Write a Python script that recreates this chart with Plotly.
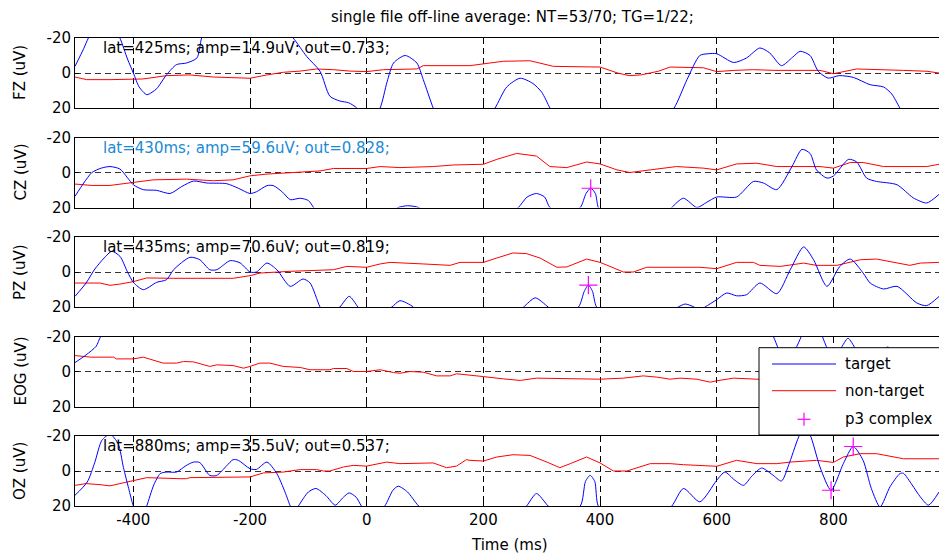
import plotly.graph_objects as go

# ---------------- data ----------------
CHANNELS = ["FZ", "CZ", "PZ", "EOG", "OZ"]
INFO = [
    "lat=425ms; amp=14.9uV; out=0.733;",
    "lat=430ms; amp=59.6uV; out=0.828;",
    "lat=435ms; amp=70.6uV; out=0.819;",
    "",
    "lat=880ms; amp=35.5uV; out=0.537;",
]
INFO_COLORS = ["black", "#1a8ad6", "black", "black", "black"]
TITLE = "single file off-line average: NT=53/70; TG=1/22;"
X_TICKS = [-400, -200, 0, 200, 400, 600, 800]
X_TICK_TEXT = ["-400", "-200", "0", "200", "400", "600", "800"]
Y_TICKS = [-20, 0, 20]
Y_TICK_TEXT = ["-20", "0", "20"]

# target (blue) averages, ms / uV
FZ_T_MS = [-500, -485, -477, -465, -445, -430, -423, -410, -400, -390, -377, -368, -360, -343, -326, -309, -291, -283, -270,
           -240, -190, -150, -126, -103, -80, -63, -46, -31, -17, -5, 10, 23, 35, 46, 66, 86, 97, 114, 125, 160, 200, 220,
           240, 263, 285, 300, 314, 330, 420, 500, 527, 549, 571, 585, 600, 629, 651, 674, 691, 711, 730, 743, 760, 774,
           791, 810, 834, 863, 886, 900, 914, 930, 960, 981]
FZ_T_UV = [-3.8, -14, -20, -26, -28, -24, -20, -8, 0, 8, 12.4, 11, 9, 1, -4.8, -5.7, -8.6, -20, -30,
           -35, -35, -28, -20, -9.5, -1, 13.3, 16, 17, 20, 26, 26, 20, 5, -5.7, -10, -5.7, 3.8, 20, 28, 35, 28, 20,
           8, 3, 6, 11, 20, 30, 35, 30, 20, 3.8, -10, -11, -11, -6, -8.6, -14.3, -11.4, -4.2, -9, -12.4, -10, -1,
           2.9, 1.5, 2.5, 6.7, 8, 12, 20, 28, 32, 33]

CZ_T_MS = [-500, -485, -471, -455, -440, -423, -410, -400, -383, -360, -337, -317, -297, -274, -240, -220, -200, -189, -171,
           -160, -145, -131, -114, -100, -91, -80, -20, 40, 54, 70, 89, 110, 200, 250, 260, 275, 291, 305, 314, 340, 366,
           376, 384, 392, 397, 410, 470, 510, 523, 543, 566, 583, 600, 634, 663, 680, 703, 729, 746, 760, 771, 789, 800,
           826, 840, 857, 874, 909, 937, 960, 981]
CZ_T_UV = [13.6, 6, 0, -2.5, -3.4, -2, 3, 7, 9.8, 10.2, 12, 8, 4.9, 6, 6.4, 9, 12, 11, 7.5,
           7.5, 11, 15.5, 14.7, 16, 20, 25, 30, 23, 20, 19, 20, 26, 30, 22, 20, 14, 12, 14, 20, 24, 20,
           12, 9, 12, 20, 26, 30, 26, 20, 14.7, 20, 17, 14, 14, 5.1, 6, 9.8, -3.4, -13.2, -10.9, -1.5, 3.2, 2,
           -7.5, -6, 3.2, 5.1, 7, 14.5, 17.4, 12.5]

PZ_T_MS = [-500, -481, -466, -450, -437, -423, -410, -400, -383, -360, -343, -331, -303, -286, -269, -257, -234, -217, -200,
           -189, -171, -154, -131, -109, -97, -80, -70, -55, -46, -30, -15, 0, 30, 43, 57, 80, 100, 200, 255, 269, 289,
           311, 330, 363, 373, 380, 387, 394, 420, 500, 534, 546, 561, 570, 580, 600, 617, 634, 651, 674, 703, 726, 749,
           766, 789, 811, 829, 851, 863, 886, 909, 943, 960, 981]
PZ_T_UV = [13.9, 6.3, -1.7, -8, -11.8, -9, 0, 5.9, 10.1, 5.9, 4.4, -1.3, -8.4, -7, -1.3, -1.3, -6.5, -5.2, 0,
           0, -5.1, -1.3, 8.2, 4, 6.3, 20, 25, 22, 20, 13.9, 20, 26, 22, 20, 16.4, 20, 27, 30, 24, 20, 14.8,
           20, 25, 20, 11, 7.5, 11, 20, 27, 27, 20, 18.3, 20, 22, 20, 15.8, 12, 13.6, 13, 6.3, 12.4, -1.3, -14.3,
           -7, 8.2, -3.2, -7.4, 0.6, 6.3, 9.7, 8.2, 17.7, 19.2, 14]

EOG_T_MS = [-500, -481, -464, -456, -440, -350, -200, 0, 200, 400, 600, 680, 697, 706, 720, 735, 745, 760, 775, 781,
            790, 800, 812, 825, 838, 850, 880, 893, 905, 930, 960, 981]
EOG_T_UV = [-5.1, -9.5, -14.3, -20, -28, -40, -45, -45, -45, -45, -40, -28, -20, -13, -8, -13, -20, -30, -24, -20,
            -13, -10, -13, -19, -13, -8, -10, -14, -10, -6, -4, -6]

OZ_T_MS = [-500, -479, -466, -454, -440, -426, -417, -408, -400, -390, -385, -377, -365, -354, -343, -326, -310, -297, -286,
           -269, -257, -240, -229, -220, -200, -189, -171, -154, -140, -131, -124, -117, -100, -87, -70, -54, -40, -30,
           -18, -9, 10, 31, 45, 54, 70, 89, 120, 200, 260, 274, 291, 311, 330, 366, 375, 383, 391, 397, 420, 500, 523,
           543, 571, 600, 614, 630, 646, 660, 677, 695, 711, 725, 743, 752, 760, 777, 796, 817, 834, 851, 865, 880, 897,
           914, 920, 935, 949, 963, 981]
OZ_T_UV = [13.9, 6.3, -5, -17.5, -21, -15.6, -2, 10, 20, 27, 27, 20, 8, 1.5, 0.6, 0.6, -3, -5.1, -4.8,
           2.5, 2.5, -3, -6.5, -6.1, -1.3, -0.9, -5.1, 1.5, 12, 20, 24, 20, 12, 10, 14, 19.5, 15, 12.5,
           15, 20, 27, 20, 11, 8.7, 12, 20, 28, 30, 24, 20, 12.9, 20, 25, 20, 6, 2.5, 6, 20, 26, 26, 20,
           10, 17.6, 5.3, 0.6, 5, 8.2, 3, -1.7, 2, 5.7, -5, -21, -23, -20.5, -2.3, 11, -4.2, -14, -6, 10, 20.5, 9,
           1.5, 1.3, 8, 14.8, 19.5, 12]

# non-target (red) averages, ms / uV
FZ_N_MS = [-500, -480, -440, -400, -383, -343, -303, -263, -229, -200, -171, -143, -114, -86, -57, -29, 0, 29, 86, 97, 177,
           234, 280, 320, 400, 430, 450, 470, 500, 520, 577, 600, 630, 663, 700, 777, 800, 820, 840, 920, 960, 981]
FZ_N_UV = [2.3, 3.8, 3.8, 3.8, 3.4, 1.5, 1.1, 2.3, 2.7, 3.0, 1.1, -0.4, -1.1, -2.3, -1.9, -1.1, -0.8, -1.9, -2.3, -4.2, -4.2,
           -6.7, -7.0, -3.8, -3.4, 0, 1.5, 1.1, -1, -3.4, -3.0, -0.8, -1.5, -1.9, -1.5, -1.5, 0.4, -1, -2.3, -1.5, -1, 0]

CZ_N_MS = [-500, -471, -440, -400, -366, -309, -263, -229, -200, -171, -131, -80, -57, 0, 23, 57, 114, 149, 200, 223, 257,
           291, 314, 343, 377, 400, 429, 451, 486, 531, 577, 600, 634, 669, 703, 777, 800, 829, 851, 886, 960, 981]
CZ_N_UV = [6.6, 7.4, 7.4, 5.7, 4.2, 3.8, 4.7, 4.2, 1.9, 0.9, 0, -0.9, -2.3, -2.3, -3.4, -2.8, -3.4, -4.3, -4.7, -7.5, -10.9,
           -9.4, -3.4, -2.8, -6, -4.9, -1.5, 0, -1.5, -3.4, -2.5, -1.5, -4.9, -5.3, -3.4, -3.4, -2.5, -5.7, -5.7, -3.4, -3.4, -4.7]

PZ_N_MS = [-500, -457, -440, -423, -400, -377, -331, -229, -200, -183, -131, -57, -34, 0, 23, 40, 97, 143, 160, 200, 223,
           251, 274, 297, 326, 343, 377, 400, 417, 440, 457, 480, 571, 600, 634, 663, 674, 709, 749, 771, 806, 846, 874,
           914, 931, 949, 981]
PZ_N_UV = [6.3, 6.3, 7.6, 6.9, 5.5, 3.4, 3.6, 3.6, 2.1, 0.6, -0.4, -1.3, -3.2, -2.7, -4.6, -5.5, -4.6, -3.8, -5.5, -5.5, -8,
           -10.9, -10.5, -8, -2.7, -2.9, -7.4, -5.5, -3.2, 0, 0, -2.7, -2.7, -1.9, -5.5, -5.5, -3.8, -3.2, -5.1, -3.8, -3.8, -7, -7.4,
           -5.1, -3.8, -5.1, -5.5]

EOG_N_MS = [-500, -473, -434, -429, -400, -383, -349, -326, -314, -297, -269, -257, -229, -211, -200, -183, -166, -143, -114,
            -97, -63, -57, -34, -23, 0, 23, 46, 57, 74, 97, 120, 143, 154, 177, 200, 234, 263, 291, 400, 440, 474, 497,
            520, 537, 566, 589, 600, 629, 669, 720, 800, 880, 981]
EOG_N_UV = [-9.1, -8.2, -8.2, -7.2, -7.2, -8.2, -4.8, -4.8, -5.7, -5.5, -2.9, -3.8, -3.4, -1.9, -2.9, -4.8, -4.8, -2.9, -2.3,
            -1, -1, -1.7, -1.7, 0, 0, -1, 0.6, 1, 0, 0.4, 2.5, 2.5, 1.3, 1.9, 2.9, 4.2, 5.1, 3.8, 4.4, 3.8, 2.5, 3.2,
            4.4, 3.8, 4.4, 6.1, 5.3, 3.8, 4.4, 4.5, 5, 5.5, 5]

OZ_N_MS = [-500, -481, -457, -440, -423, -400, -377, -320, -309, -303, -200, -177, -143, -114, -86, -74, -63, -40, -23, 0,
           23, 34, 57, 86, 114, 137, 154, 171, 177, 200, 223, 251, 280, 309, 331, 349, 377, 400, 423, 446, 486, 520, 543,
           600, 634, 669, 703, 726, 771, 800, 817, 846, 874, 920, 981]
OZ_N_UV = [8.2, 7.2, 7.8, 8.5, 7.2, 5.7, 3.8, 4.4, 4.4, 3.8, 3.4, 1.1, 0.6, -0.8, -0.8, 0, 0, -2.3, -3.2, -2.8,
           -4.6, -5.1, -4.2, -4.6, -4.6, -1.9, -2.8, -6.5, -6.1, -5.7, -8, -9.3, -8.9, -5.1, -1.9, -4.2, -8, -4.6, 0, 0,
           -4.2, -4.2, -3.6, -2.7, -6.1, -4.2, -4.2, -5.1, -6.1, -4.9, -8, -9.9, -9.9, -7, -7]

# p3 complex marks
P3_MS = [[], [384], [380], [], [796, 834]]
P3_UV = [[], [9.0], [7.5], [], [11, -14]]

TARGET_MS = [FZ_T_MS, CZ_T_MS, PZ_T_MS, EOG_T_MS, OZ_T_MS]
TARGET_UV = [FZ_T_UV, CZ_T_UV, PZ_T_UV, EOG_T_UV, OZ_T_UV]
NONTARGET_MS = [FZ_N_MS, CZ_N_MS, PZ_N_MS, EOG_N_MS, OZ_N_MS]
NONTARGET_UV = [FZ_N_UV, CZ_N_UV, PZ_N_UV, EOG_N_UV, OZ_N_UV]

LEGEND_LABELS = ["target", "non-target", "p3 complex"]

# ---------------- layout (pixels) ----------------
W, H = 939, 554
FONT = "DejaVu Sans"
FS = 15
X_LEFT = 75
TOPS = [38, 137.5, 237, 336.5, 436]
PH = 70


def px(x):
    return x / W


def py(y):
    return 1 - y / H


fig = go.Figure()
layout = {}
annotations = []

for i, ch in enumerate(CHANNELS):
    sfx = "" if i == 0 else str(i + 1)
    xa, ya = "x" + sfx, "y" + sfx
    fig.add_trace(go.Scatter(x=NONTARGET_MS[i], y=NONTARGET_UV[i], mode="lines",
                             line=dict(color="#ff0000", width=1), xaxis=xa, yaxis=ya,
                             showlegend=False, hoverinfo="skip", name="non-target"))
    fig.add_trace(go.Scatter(x=TARGET_MS[i], y=TARGET_UV[i], mode="lines",
                             line=dict(color="#0000ff", width=1, shape="spline", smoothing=0.7),
                             xaxis=xa, yaxis=ya, showlegend=False, hoverinfo="skip", name="target"))
    if P3_MS[i]:
        fig.add_trace(go.Scatter(x=P3_MS[i], y=P3_UV[i], mode="markers",
                                 marker=dict(symbol="cross-thin", size=13,
                                             line=dict(color="#ff00ff", width=1.2)),
                                 xaxis=xa, yaxis=ya, showlegend=False, hoverinfo="skip", name="p3 complex"))
    top = TOPS[i]
    layout["xaxis" + sfx] = dict(
        domain=[px(X_LEFT), 1], range=[-500, 981], anchor=ya, automargin=False,
        tickvals=X_TICKS, ticktext=X_TICK_TEXT, showticklabels=(i == len(CHANNELS) - 1),
        tickfont=dict(family=FONT, size=FS, color="black"),
        showgrid=True, gridcolor="black", gridwidth=1, griddash="6px,4px",
        showline=True, linecolor="black", linewidth=1, mirror=True,
        ticks="inside", ticklen=4, tickcolor="black", zeroline=False,
    )
    layout["yaxis" + sfx] = dict(
        domain=[py(top + PH), py(top)], range=[20, -20], anchor=xa, automargin=False,
        tickvals=Y_TICKS, ticktext=Y_TICK_TEXT,
        tickfont=dict(family=FONT, size=FS, color="black"),
        showgrid=True, gridcolor="#333333", gridwidth=1, griddash="6px,4px",
        showline=True, linecolor="black", linewidth=1, mirror=False,
        ticks="inside", ticklen=4, tickcolor="black", zeroline=False,
    )
    annotations.append(dict(text=f"{ch} (uV)", x=px(20), y=py(top + PH / 2), xref="paper", yref="paper",
                            textangle=-90, showarrow=False, xanchor="center", yanchor="middle",
                            font=dict(family=FONT, size=FS, color="black")))
    if INFO[i]:
        annotations.append(dict(text=INFO[i], x=px(101), y=py(top + 10), xref="paper", yref="paper",
                                showarrow=False, xanchor="left", yanchor="middle",
                                font=dict(family=FONT, size=FS, color=INFO_COLORS[i])))

annotations.append(dict(text=TITLE, x=px(512), y=py(17), xref="paper", yref="paper", showarrow=False,
                        xanchor="center", yanchor="middle", font=dict(family=FONT, size=FS, color="black")))
annotations.append(dict(text="Time (ms)", x=px(509), y=py(545), xref="paper", yref="paper", showarrow=False,
                        xanchor="center", yanchor="middle", font=dict(family=FONT, size=FS, color="black")))

# legend box (MATLAB style)
LEG_L, LEG_T, LEG_B = 759, 347.7, 435
LEG_ROWS = [364, 390.7, 419.3]
shapes = [
    dict(type="rect", xref="paper", yref="paper", x0=px(LEG_L), x1=1.05, y0=py(LEG_B), y1=py(LEG_T),
         fillcolor="white", line=dict(color="black", width=1), layer="above"),
    dict(type="line", xref="paper", yref="paper", x0=px(772), x1=px(836), y0=py(LEG_ROWS[0]), y1=py(LEG_ROWS[0]),
         line=dict(color="#0000ff", width=1), layer="above"),
    dict(type="line", xref="paper", yref="paper", x0=px(772), x1=px(836), y0=py(LEG_ROWS[1]), y1=py(LEG_ROWS[1]),
         line=dict(color="#ff0000", width=1), layer="above"),
    dict(type="line", xref="paper", yref="paper", x0=px(797.5), x1=px(810.5), y0=py(LEG_ROWS[2]), y1=py(LEG_ROWS[2]),
         line=dict(color="#ff00ff", width=1.2), layer="above"),
    dict(type="line", xref="paper", yref="paper", x0=px(804), x1=px(804), y0=py(LEG_ROWS[2] - 6.5), y1=py(LEG_ROWS[2] + 6.5),
         line=dict(color="#ff00ff", width=1.2), layer="above"),
]
for lab, row in zip(LEGEND_LABELS, LEG_ROWS):
    annotations.append(dict(text=lab, x=px(843), y=py(row), xref="paper", yref="paper", showarrow=False,
                            xanchor="left", yanchor="middle", font=dict(family=FONT, size=FS, color="black")))

fig.update_layout(**layout)
fig.update_layout(
    width=W, height=H, margin=dict(l=0, r=0, t=0, b=0, pad=0, autoexpand=False),
    paper_bgcolor="white", plot_bgcolor="white",
    annotations=annotations, shapes=shapes, showlegend=False,
)
fig.write_html("out.html")
